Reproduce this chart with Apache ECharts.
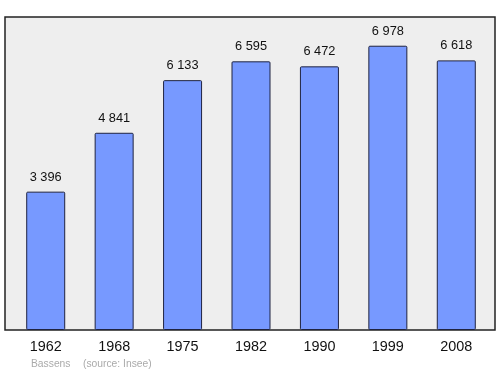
<!DOCTYPE html>
<html>
<head>
<meta charset="utf-8">
<script src="https://cdn.jsdelivr.net/npm/echarts@6/dist/echarts.min.js"></script>
<style>html,body{margin:0;padding:0;background:#fff;}#c{width:500px;height:374px;}</style>
</head>
<body>
<div id="c"></div>
<script>
var years = ['1962', '1968', '1975', '1982', '1990', '1999', '2008'];
var population = [3396, 4841, 6133, 6595, 6472, 6978, 6618];
var footerName = 'Bassens';
var footerSource = '(source: Insee)';

function fmt(v) { return String(v).replace(/\B(?=(\d{3})+(?!\d))/g, ' '); }

var chart = echarts.init(document.getElementById('c'));
chart.setOption({
  animation: false,
  backgroundColor: '#ffffff',
  graphic: [
    { type: 'rect', z: -10, shape: { x: 5, y: 17, width: 490, height: 313 },
      style: { fill: '#eeeeee', stroke: '#222222', lineWidth: 1.5 } },
    { type: 'text', left: 31, top: 359, style: { text: footerName, fill: '#aaaaaa', font: '10.3px "Liberation Sans", Arial, sans-serif' } },
    { type: 'text', left: 83, top: 359, style: { text: footerSource, fill: '#aaaaaa', font: '10.3px "Liberation Sans", Arial, sans-serif' } }
  ],
  grid: { left: 11.5, width: 479, top: 17, bottom: 44, containLabel: false },
  xAxis: {
    type: 'category', data: years,
    axisLine: { show: false }, axisTick: { show: false },
    axisLabel: { color: '#111', fontSize: 14.4, fontFamily: 'Liberation Sans, Arial, sans-serif', margin: 10.5 }
  },
  yAxis: {
    type: 'value', min: 0, max: 7683, show: false, splitLine: { show: false }
  },
  series: [{
    type: 'bar', data: population, barWidth: 39,
    itemStyle: { color: '#7799ff', borderColor: '#1f2340', borderWidth: 1, borderRadius: 1 },
    label: { show: true, position: 'top', distance: 8, color: '#111', fontSize: 12.8,
      fontFamily: 'Liberation Sans, Arial, sans-serif', formatter: function (p) { return fmt(p.value); } }
  }]
});
</script>
</body>
</html>
